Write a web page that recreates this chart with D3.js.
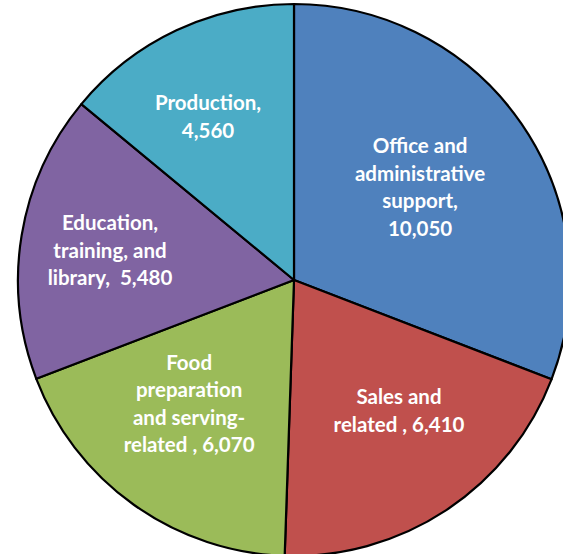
<!DOCTYPE html>
<html>
<head>
<meta charset="utf-8">
<script src="https://cdn.jsdelivr.net/npm/d3@7"></script>
<style>
  html, body { margin: 0; padding: 0; background: #fff; }
  svg { display: block; }
</style>
</head>
<body>
<svg id="chart" width="563" height="554"></svg>
<script>
// ---- data ----
const categories = [
  "Office and administrative support",
  "Sales and related",
  "Food preparation and serving-related",
  "Education, training, and library",
  "Production"
];
const values = [10050, 6410, 6070, 5480, 4560];
const valueLabels = ["10,050", "6,410", "6,070", "5,480", "4,560"];
const labelLines = [
  ["Office and", "administrative", "support,", "10,050"],
  ["Sales and", "related , 6,410"],
  ["Food", "preparation", "and serving-", "related , 6,070"],
  ["Education,", "training, and", "library,  5,480"],
  ["Production,", "4,560"]
];

// ---- layout / style ----
const colors = ["#4F81BD", "#C0504D", "#9BBB59", "#8064A2", "#4BACC6"];
const cx = 294, cy = 280, R = 276;
const labelK = 0.6;
const labelNudge = [[-10.5, 0], [13.6, -8], [-8.8, -11.8], [-20.6, -3.7], [-15.5, -14]];
const lineH = 27.5;

const svg = d3.select("#chart");
const g = svg.append("g").attr("transform", `translate(${cx},${cy})`);

const data = categories.map((c, i) => ({ name: c, value: values[i], idx: i }));
const pie = d3.pie().sort(null).value(d => d.value).startAngle(0).endAngle(2 * Math.PI);
const arcs = pie(data);
const arc = d3.arc().innerRadius(0).outerRadius(R);
const labelArc = d3.arc().innerRadius(R * labelK).outerRadius(R * labelK);

g.selectAll("path.slice")
  .data(arcs)
  .join("path")
  .attr("class", "slice")
  .attr("d", arc)
  .attr("fill", d => colors[d.data.idx])
  .attr("stroke", "#000")
  .attr("stroke-width", 2.2)
  .attr("stroke-linejoin", "round");

const labels = g.selectAll("text.lbl")
  .data(arcs)
  .join("text")
  .attr("class", "lbl")
  .attr("text-anchor", "middle")
  .attr("fill", "#fff")
  .attr("font-family", "Lato, 'Open Sans', sans-serif")
  .attr("font-weight", "bold")
  .attr("font-size", 20.5)
  .attr("transform", d => {
    const [x, y] = labelArc.centroid(d);
    const n = labelNudge[d.data.idx];
    return `translate(${x + n[0]},${y + n[1]})`;
  });

labels.each(function(d) {
  const lines = labelLines[d.data.idx];
  const t = d3.select(this);
  const off = -(lines.length - 1) / 2 * lineH;
  lines.forEach((ln, j) => {
    t.append("tspan")
      .attr("x", 0)
      .attr("y", off + j * lineH)
      .attr("dominant-baseline", "central")
      .attr("xml:space", "preserve")
      .style("white-space", "pre")
      .text(ln);
  });
});
</script>
</body>
</html>
